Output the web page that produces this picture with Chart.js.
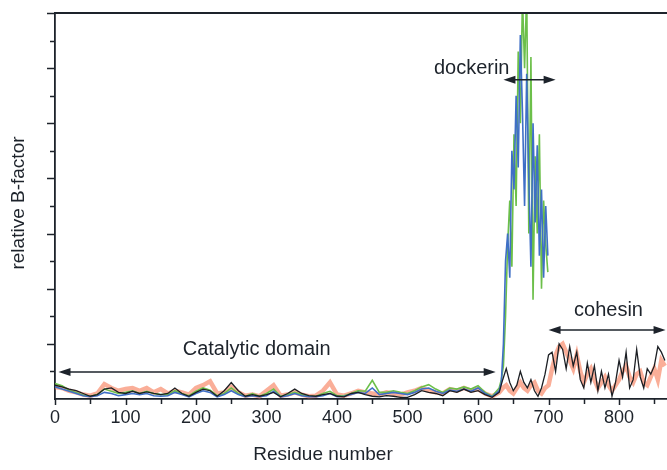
<!DOCTYPE html>
<html>
<head>
<meta charset="utf-8">
<script src="https://cdn.jsdelivr.net/npm/chart.js@4.4.0/dist/chart.umd.min.js"></script>
<style>
  html, body { margin: 0; padding: 0; background: #fff; }
</style>
</head>
<body>
<canvas id="chart_1" width="667" height="470"></canvas>
<script>
// residuos del dominio catalitico (compartidos)
var resCat = [0,10,20,30,40,50,60,70,80,90,100,110,120,130,140,150,160,170,180,190,200,210,220,230,240,250,260,270,280,290,300,310,320,330,340,350,360,370,380,390,400,410,420,430,440,450,460,470,480,490,500,510,520,530,540,550,560,570,580,590,600,610,620,630];
// residuos del dockerin (series azul / verde)
var resDock = [633,636,639,642,645,648,651,654,657,660,663,666,669,672,675,678,681,684,687,690,693,696,699];
// residuos despues del catalitico (series negra / naranja)
var resCoh = [635,640,645,650,655,660,665,670,675,680,685,690,695,700,705,710,715,720,725,730,735,740,745,750,755,760,765,770,775,780,785,790,795,800,805,810,815,820,825,830,835,840,845,850,855,860,865];

var blackCat = [0.25,0.22,0.18,0.15,0.1,0.05,0.08,0.18,0.2,0.12, 0.1,0.14,0.1,0.13,0.1,0.08,0.1,0.2,0.1,0.05, 0.12,0.18,0.15,0.05,0.15,0.3,0.15,0.05,0.08,0.05, 0.08,0.12,0.04,0.1,0.18,0.1,0.06,0.05,0.08,0.1, 0.05,0.04,0.1,0.12,0.08,0.05,0.04,0.06,0.05,0.03, 0.03,0.08,0.15,0.12,0.1,0.06,0.15,0.12,0.18,0.12, 0.15,0.08,0.03,0.12];
var blackCoh = [0.35,0.55,0.3,0.15,0.25,0.5,0.3,0.2,0.35,0.15,0.05,0.2,0.45,0.8, 0.85,0.5,1.0,0.9,0.55,0.95,0.6,0.85,0.35,0.2, 0.65,0.3,0.6,0.15,0.5,0.2,0.45,0.05,0.3,0.7, 0.4,0.85,0.2,0.35,0.9,0.4,0.2,0.55,0.45,0.6, 0.95,0.85,0.7];

var orangeCat = [0.22,0.2,0.15,0.12,0.08,0.06,0.1,0.27,0.2,0.15, 0.18,0.2,0.15,0.2,0.12,0.18,0.1,0.15,0.12,0.08, 0.2,0.25,0.32,0.1,0.12,0.22,0.12,0.06,0.08,0.05, 0.15,0.25,0.06,0.08,0.12,0.08,0.05,0.06,0.15,0.3, 0.08,0.06,0.1,0.15,0.12,0.1,0.08,0.12,0.1,0.08, 0.12,0.15,0.2,0.15,0.12,0.1,0.18,0.15,0.2,0.15, 0.18,0.1,0.05,0.12];
var orangeCoh = [0.2,0.25,0.15,0.1,0.2,0.3,0.2,0.15,0.25,0.3,0.15,0.1,0.2,0.25, 0.55,0.8,0.95,1.0,0.85,0.7,0.55,0.8,0.5,0.3, 0.45,0.55,0.35,0.2,0.3,0.4,0.25,0.15,0.25,0.35, 0.5,0.6,0.4,0.3,0.45,0.5,0.3,0.25,0.4,0.55, 0.35,0.7,0.6];

var blueCat = [0.22,0.18,0.14,0.1,0.06,0.04,0.06,0.12,0.1,0.06, 0.08,0.1,0.08,0.1,0.06,0.05,0.06,0.12,0.08,0.04, 0.1,0.15,0.12,0.04,0.08,0.15,0.08,0.04,0.06,0.04, 0.06,0.14,0.04,0.06,0.1,0.06,0.04,0.04,0.06,0.1, 0.04,0.05,0.08,0.12,0.1,0.2,0.08,0.1,0.12,0.1, 0.08,0.12,0.18,0.2,0.14,0.1,0.16,0.14,0.18,0.14, 0.2,0.1,0.04,0.15];
var blueDock = [0.3,1.0,2.5,3.0,2.2,4.5,3.8,5.5,4.2,6.6,5.2,3.5,5.9,4.0,2.4,5.0,3.2,4.6,2.6,3.8,2.2,3.5,2.6];

var greenCat = [0.28,0.24,0.16,0.12,0.07,0.05,0.08,0.18,0.14,0.1, 0.12,0.15,0.1,0.14,0.1,0.08,0.08,0.15,0.1,0.06, 0.14,0.2,0.16,0.06,0.1,0.2,0.1,0.05,0.1,0.05, 0.1,0.18,0.05,0.08,0.12,0.08,0.05,0.05,0.1,0.14, 0.06,0.06,0.1,0.15,0.14,0.34,0.12,0.12,0.15,0.12, 0.1,0.15,0.22,0.26,0.18,0.12,0.2,0.18,0.22,0.18, 0.24,0.12,0.05,0.2];
var greenDock = [0.35,0.6,1.5,2.8,3.6,2.4,4.8,3.5,6.3,5.0,7.3,6.0,7.4,3.0,6.2,1.8,4.4,3.0,4.8,2.0,3.6,2.8,2.3];

var xTickLabels = ["0","100","200","300","400","500","600","700","800"];

// anotaciones: texto, centro x (residuo), y (valor)
var notas = [
  { texto: "Catalytic domain", x: 286, y: 0.89 },
  { texto: "dockerin", x: 591, y: 6.0 },
  { texto: "cohesin", x: 785, y: 1.6 }
];
// flechas dobles: desde, hasta, altura
var flechas = [
  { desde: 5, hasta: 625, y: 0.49 },
  { desde: 636, hasta: 710, y: 5.79 },
  { desde: 700, hasta: 866, y: 1.25 }
];

function puntos(xs, ys) {
  return xs.map(function(x, i) { return { x: x, y: ys[i] }; });
}

var colorTexto = '#1d232b';
var fuente = '"Liberation Sans", Arial, sans-serif';

var anotaciones = {
  id: 'anotaciones',
  afterDatasetsDraw: function(chart) {
    var ctx = chart.ctx, xs = chart.scales.x, ys = chart.scales.y, a = chart.chartArea;
    ctx.save();
    ctx.strokeStyle = colorTexto;
    ctx.fillStyle = colorTexto;
    // borde superior
    ctx.lineWidth = 2;
    ctx.beginPath();
    ctx.moveTo(a.left, a.top);
    ctx.lineTo(a.right, a.top);
    ctx.stroke();
    // marcas del eje y (hacia afuera)
    ctx.lineWidth = 1.5;
    for (var v = 0.5; v <= 7; v += 0.5) {
      var py = Math.round(ys.getPixelForValue(v)) + 0.5;
      var largo = (v % 1 === 0) ? 8 : 5;
      ctx.beginPath();
      ctx.moveTo(a.left - largo, py);
      ctx.lineTo(a.left, py);
      ctx.stroke();
    }
    // marcas del eje x (hacia abajo)
    for (var r = 0; r <= 860; r += 50) {
      var px = Math.round(xs.getPixelForValue(r)) + 0.5;
      var l2 = (r % 100 === 0) ? 6 : 5;
      ctx.beginPath();
      ctx.moveTo(px, a.bottom);
      ctx.lineTo(px, a.bottom + l2);
      ctx.stroke();
    }
    // flechas
    ctx.lineWidth = 1.6;
    flechas.forEach(function(f) {
      var x1 = xs.getPixelForValue(f.desde), x2 = xs.getPixelForValue(f.hasta);
      var y = ys.getPixelForValue(f.y);
      ctx.beginPath();
      ctx.moveTo(x1 + 6, y);
      ctx.lineTo(x2 - 6, y);
      ctx.stroke();
      [[x1, 1], [x2, -1]].forEach(function(p) {
        ctx.beginPath();
        ctx.moveTo(p[0], y);
        ctx.lineTo(p[0] + p[1] * 12, y - 4);
        ctx.lineTo(p[0] + p[1] * 12, y + 4);
        ctx.closePath();
        ctx.fill();
      });
    });
    // textos de anotacion
    ctx.font = '20px ' + fuente;
    ctx.textAlign = 'center';
    ctx.textBaseline = 'middle';
    notas.forEach(function(n) {
      ctx.fillText(n.texto, xs.getPixelForValue(n.x), ys.getPixelForValue(n.y));
    });
    // titulos de ejes
    ctx.font = '19px ' + fuente;
    ctx.fillText('Residue number', 323, 455);
    ctx.translate(19, 203);
    ctx.rotate(-Math.PI / 2);
    ctx.fillText('relative B-factor', 0, 0);
    ctx.restore();
  }
};

var ctx = document.getElementById('chart_1').getContext('2d');
var chart = new Chart(ctx, {
  type: 'line',
  data: {
    datasets: [
      { data: puntos(resCat.concat(resCoh), orangeCat.concat(orangeCoh)), borderColor: 'rgba(246,120,84,0.6)', borderWidth: 4.5, order: 4 },
      { data: puntos(resCat.concat(resDock), greenCat.concat(greenDock)), borderColor: '#6cbf4a', borderWidth: 1.6, order: 3 },
      { data: puntos(resCat.concat(resDock), blueCat.concat(blueDock)), borderColor: '#3f6fc6', borderWidth: 1.6, order: 2 },
      { data: puntos(resCat.concat(resCoh), blackCat.concat(blackCoh)), borderColor: '#1c1f24', borderWidth: 1.3, order: 1 }
    ]
  },
  options: {
    responsive: false,
    animation: false,
    layout: { padding: { top: 13, right: 0, left: 0, bottom: 0 } },
    elements: { point: { radius: 0 }, line: { tension: 0 } },
    plugins: { legend: { display: false }, tooltip: { enabled: false } },
    scales: {
      x: {
        type: 'linear',
        min: 0,
        max: 868,
        afterFit: function(s) { s.height = 71; s.paddingLeft = 0; s.paddingRight = 0; },
        grid: { display: false, drawTicks: false },
        border: { display: true, color: colorTexto, width: 1.8 },
        ticks: {
          stepSize: 100,
          autoSkip: false,
          maxRotation: 0,
          padding: 8,
          color: colorTexto,
          font: { size: 18, family: fuente },
          callback: function(v) { return xTickLabels.indexOf(String(v)) >= 0 ? String(v) : ''; }
        }
      },
      y: {
        min: 0,
        max: 7,
        afterFit: function(s) { s.width = 55; },
        grid: { display: false, drawTicks: false },
        border: { display: true, color: colorTexto, width: 1.8 },
        ticks: { display: false }
      }
    }
  },
  plugins: [anotaciones]
});
</script>
</body>
</html>
